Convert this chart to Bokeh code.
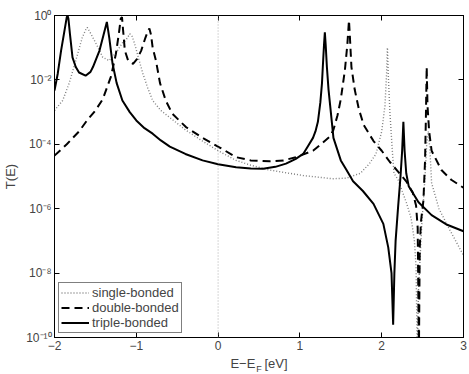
from bokeh.plotting import figure
from bokeh.models import (FixedTicker, CustomJSTickFormatter, LogAxis, LinearAxis,
                          Span, Legend)
from bokeh.embed import file_html
from bokeh.resources import INLINE

# ---- data (T(E) given as log10 values) ----
single_x = [-2.00, -1.90, -1.82, -1.74, -1.66, -1.62, -1.60, -1.57, -1.49, -1.41, -1.33, -1.23,
            -1.17, -1.14, -1.11, -1.08, -1.05, -1.02, -0.97, -0.92, -0.86, -0.80, -0.70, -0.59,
            -0.40, -0.19, 0.00, 0.22, 0.40, 0.63, 1.04, 1.40, 1.57, 1.74, 1.85, 1.93, 2.00, 2.04,
            2.06, 2.07, 2.08, 2.10, 2.13, 2.15, 2.20, 2.30, 2.36, 2.40, 2.42, 2.435, 2.45, 2.49,
            2.53, 2.55, 2.57, 2.59, 2.61, 2.70, 2.82, 3.00]
single_log = [-2.95, -2.64, -2.1, -1.4, -0.68, -0.45, -0.37, -0.5, -0.88, -1.3, -1.4, -1.09,
              -0.85, -0.8, -0.7, -0.57, -0.65, -0.88, -1.35, -1.8, -2.25, -2.64, -2.95, -3.17,
              -3.55, -3.9, -4.2, -4.5, -4.65, -4.8, -4.97, -5.07, -5.05, -4.9, -4.6, -4.3, -3.6, -2.8,
              -1.8, -1.0, -1.8, -3.0, -4.2, -4.9, -5.1, -5.8, -6.3, -7.0, -7.8, -10.5, -8.5, -6.5,
              -5.0, -4.0, -3.6, -4.2, -5.2, -6.0, -6.6, -7.45]

double_x = [-2.00, -1.85, -1.70, -1.60, -1.50, -1.41, -1.31, -1.25, -1.21, -1.19, -1.175, -1.16,
            -1.14, -1.10, -1.04, -0.99, -0.94, -0.89, -0.86, -0.84, -0.82, -0.80, -0.76, -0.71,
            -0.64, -0.56, -0.39, -0.19, 0.02, 0.22, 0.40, 0.63, 0.80, 0.95, 1.16, 1.28, 1.37, 1.41,
            1.46, 1.50, 1.55, 1.58, 1.60, 1.61, 1.63, 1.67, 1.72, 1.78, 1.90, 2.00, 2.10, 2.20,
            2.30, 2.38, 2.42, 2.44, 2.455, 2.465, 2.48, 2.51, 2.53, 2.54, 2.55, 2.56, 2.58, 2.61,
            2.73, 2.85, 3.00]
double_log = [-4.35, -4.0, -3.6, -3.25, -2.95, -2.6, -1.9, -1.2, -0.5, -0.1, -0.05, -0.5,
              -1.09, -1.4, -1.5, -1.35, -1.09, -0.7, -0.5, -0.4, -0.6, -1.0, -1.4, -2.1,
              -2.64, -3.05, -3.47, -3.8, -4.1, -4.4, -4.5, -4.53, -4.5, -4.4, -4.2, -3.95, -3.75, -3.55,
              -3.1, -2.6, -1.7, -0.9, -0.15, -0.6, -1.6, -2.3, -2.9, -3.4, -3.9, -4.2, -4.55, -4.85,
              -5.15, -5.5, -5.9, -6.6, -10.5, -7.2, -6.4, -5.75, -4.5, -3.2, -1.6, -2.8, -3.6, -4.2,
              -4.8, -5.1, -5.35]

triple_x = [-2.00, -1.96, -1.92, -1.88, -1.85, -1.84, -1.83, -1.81, -1.78, -1.74, -1.70, -1.62,
            -1.56, -1.53, -1.45, -1.40, -1.36, -1.33, -1.29, -1.24, -1.17, -1.08, -1.00, -0.90,
            -0.80, -0.70, -0.59, -0.40, -0.19, 0.00, 0.22, 0.40, 0.55, 0.70, 0.83, 0.95, 1.04,
            1.10, 1.16, 1.19, 1.22, 1.25, 1.27, 1.28, 1.295, 1.305, 1.315, 1.33, 1.35, 1.37, 1.41,
            1.50, 1.57, 1.65, 1.77, 1.90, 2.02, 2.08, 2.12, 2.14, 2.155, 2.17, 2.20, 2.23, 2.25,
            2.265, 2.28, 2.30, 2.33, 2.45, 2.61, 2.80, 3.00]
triple_log = [-2.33, -1.8, -1.1, -0.5, -0.05, 0.0, -0.1, -0.6, -1.3, -1.6, -1.77, -1.87,
              -1.75, -1.6, -1.09, -0.6, -0.2, -0.7, -1.5, -2.1, -2.64, -3.0, -3.26, -3.5,
              -3.67, -3.88, -4.07, -4.3, -4.5, -4.62, -4.71, -4.75, -4.76, -4.7, -4.6, -4.45, -4.3,
              -4.05, -3.8, -3.6, -3.3, -2.7, -2.1, -1.6, -0.9, -0.52, -0.9, -1.6, -2.3, -2.8, -3.8,
              -4.5, -4.8, -5.15, -5.45, -5.85, -6.47, -7.2, -8.0, -9.6, -8.0, -7.0, -5.96, -5.0, -4.2,
              -3.3, -4.2, -4.9, -5.3, -5.8, -6.2, -6.5, -6.7]

x_ticks = [-2, -1, 0, 1, 2, 3]
x_tick_labels = {-2: "\u22122", -1: "\u22121", 0: "0", 1: "1", 2: "2", 3: "3"}
y_ticks = [1e-10, 1e-8, 1e-6, 1e-4, 1e-2, 1e0]
series_names = ["single-bonded", "double-bonded", "triple-bonded"]
x_label_main = "E\u2212E\u2002\u2009[eV]"
x_label_sub = "F"
y_label = "T(E)"

FONT = "Liberation Sans"

p = figure(frame_width=409, frame_height=322, y_axis_type="log",
           x_range=(-2, 3), y_range=(1e-10, 1),
           output_backend="svg", toolbar_location=None,
           min_border_left=52, min_border_right=7, min_border_top=15, min_border_bottom=30)
p.grid.visible = False
p.outline_line_color = "black"
p.outline_line_width = 1
p.background_fill_color = "white"

sup_code = """
const e = Math.round(Math.log10(tick));
const sup = {'-':'\u207b','0':'\u2070','1':'\u00b9','2':'\u00b2','3':'\u00b3','4':'\u2074',
             '5':'\u2075','6':'\u2076','7':'\u2077','8':'\u2078','9':'\u2079'};
return '10' + String(e).split('').map(c => sup[c]).join('');
"""

xt = FixedTicker(ticks=x_ticks, minor_ticks=[])
yt = FixedTicker(ticks=y_ticks, minor_ticks=[])

for ax in p.xaxis:
    ax.ticker = xt
    ax.major_label_overrides = x_tick_labels
    ax.axis_label = x_label_main
    ax.axis_label_text_font = FONT
    ax.axis_label_text_font_style = "normal"
    ax.axis_label_text_font_size = "13px"
    ax.axis_label_standoff = 3
for ax in p.yaxis:
    ax.ticker = yt
    ax.formatter = CustomJSTickFormatter(code=sup_code)
    ax.axis_label = y_label
    ax.axis_label_text_font = FONT
    ax.axis_label_text_font_style = "normal"
    ax.axis_label_text_font_size = "13px"
    ax.axis_label_standoff = 5

for ax in list(p.xaxis) + list(p.yaxis):
    ax.major_tick_in = 5
    ax.major_tick_out = 0
    ax.minor_tick_line_color = None
    ax.major_label_text_font = FONT
    ax.major_label_text_font_size = "12px"
    ax.major_label_standoff = 3
    ax.axis_line_color = "black"
    ax.major_tick_line_color = "black"

# subscript "F" of the x-axis label, as the label of an invisible second bottom axis
sub_ax = LinearAxis(ticker=FixedTicker(ticks=[]), axis_line_color=None,
                    major_tick_line_color=None, minor_tick_line_color=None,
                    axis_label=x_label_sub, axis_label_text_font=FONT,
                    axis_label_text_font_style="normal", axis_label_text_font_size="9px",
                    axis_label_standoff=-10)
p.add_layout(sub_ax, "below")

blank = CustomJSTickFormatter(code="return ' ';")
right_ax = LogAxis(ticker=yt, formatter=blank, major_tick_in=5, major_tick_out=0,
                   minor_tick_line_color=None, major_label_text_font_size="1px",
                   major_label_standoff=0, axis_line_color="black")
top_ax = LinearAxis(ticker=xt, formatter=blank, major_tick_in=5, major_tick_out=0,
                    minor_tick_line_color=None, major_label_text_font_size="1px",
                    major_label_standoff=0, axis_line_color="black")
p.add_layout(right_ax, "right")
p.add_layout(top_ax, "above")

p.add_layout(Span(location=0, dimension="height", line_color="#b0b0b0",
                  line_dash="1 2", line_width=1))

single_T = [10 ** v for v in single_log]
double_T = [10 ** v for v in double_log]
triple_T = [10 ** v for v in triple_log]

r1 = p.line(single_x, single_T, line_color="#7f7f7f", line_width=1.4, line_dash="1 2")
r2 = p.line(double_x, double_T, line_color="black", line_width=2, line_dash="8 5")
r3 = p.line(triple_x, triple_T, line_color="black", line_width=2)

legend = Legend(items=[(series_names[0], [r1]), (series_names[1], [r2]), (series_names[2], [r3])],
                location="bottom_left", margin=4, padding=2, spacing=0,
                label_text_font=FONT, label_text_font_size="13px",
                label_height=15, glyph_height=15, glyph_width=28, label_standoff=3,
                border_line_color="black", border_line_width=1,
                background_fill_alpha=1)
p.add_layout(legend, "center")

open("out.html", "w").write(file_html(p, INLINE))
